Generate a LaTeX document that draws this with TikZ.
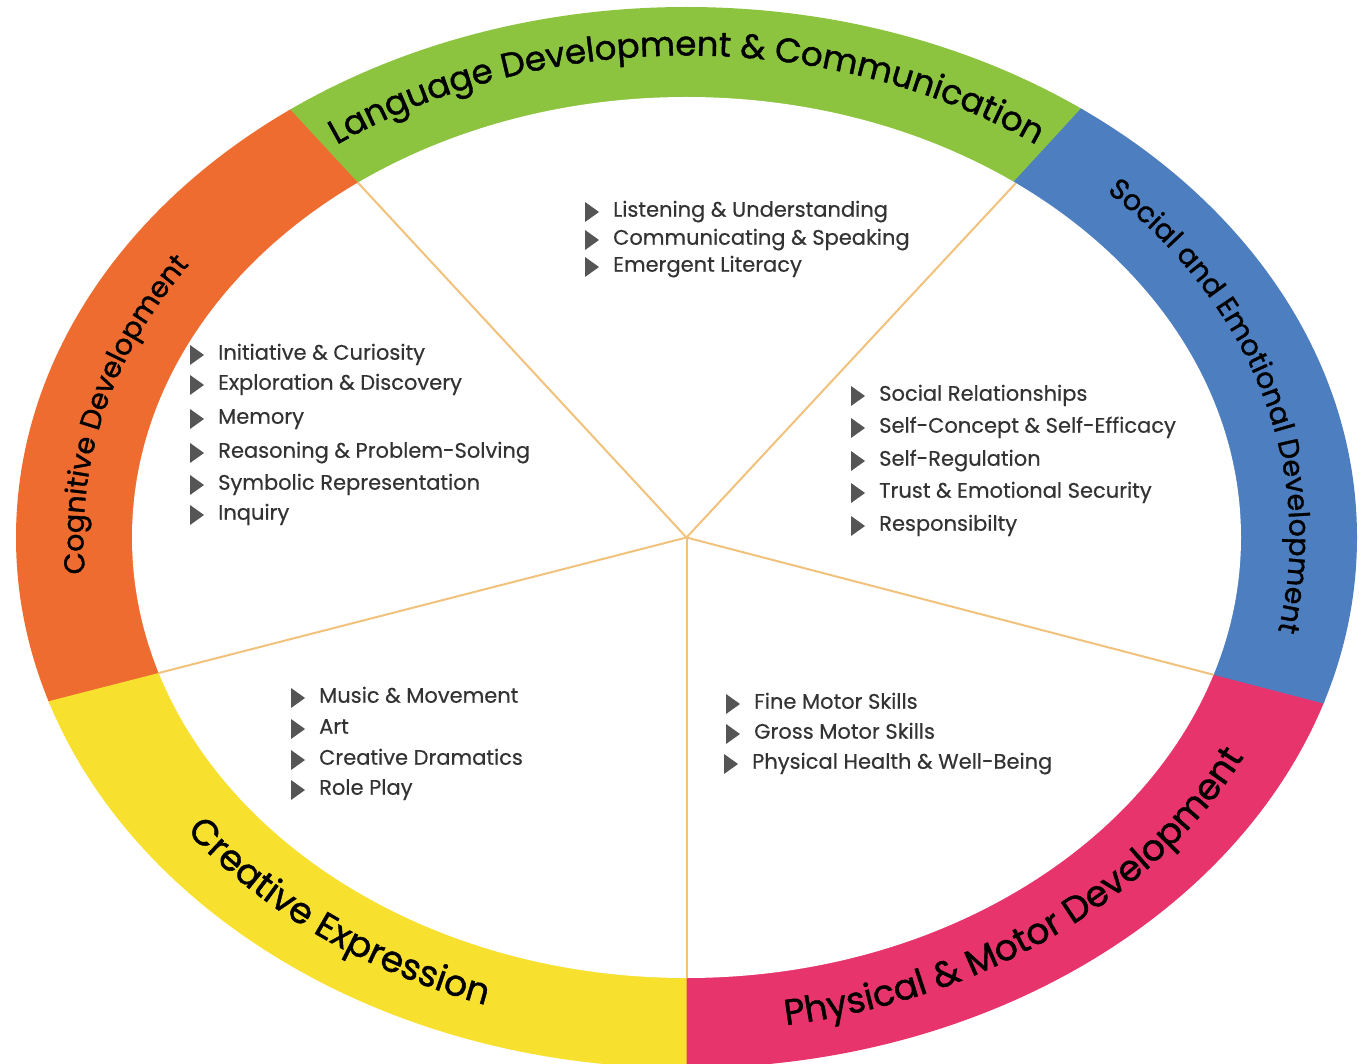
\documentclass[tikz,border=0pt]{standalone}
\usepackage{fontspec}
\setmainfont{Poppins}
\newfontfamily\hdrfont{Poppins}[FakeBold=1.2]
\newfontfamily\itmfont{Poppins}[FakeBold=0.4]
\usetikzlibrary{decorations.text}
\definecolor{cgreen}{HTML}{8CC43F}
\definecolor{corange}{HTML}{EE6C2F}
\definecolor{cblue}{HTML}{4D7EC0}
\definecolor{cpink}{HTML}{E8346D}
\definecolor{cyellow}{HTML}{F8E02F}
\definecolor{cline}{HTML}{F2C27C}
\definecolor{ctext}{HTML}{333333}
\definecolor{cbul}{HTML}{555555}
\newcommand\hdrbig{\hdrfont\fontsize{36}{40}\selectfont}
\newcommand\hdrlang{\hdrfont\fontsize{34}{38}\selectfont}
\newcommand\hdrsmall{\hdrfont\fontsize{28.5}{32}\selectfont}
\tikzset{
  itm/.style={anchor=mid west, inner sep=0pt, text=ctext, font=\itmfont\fontsize{21}{23}\selectfont},
  bul/.style={fill=cbul},
  divider/.style={draw=cline, line width=2pt}
}
\newcommand\bitem[4]{%
  \fill[bul] ({#2-28},{-#3+10}) -- ({#2-14},{-#3}) -- ({#2-28},{-#3-10}) -- cycle;
  \node[itm] (#1) at (#2,{-#3-2}) {#4};}
\begin{document}
\begin{tikzpicture}[x=1pt,y=1pt]
\useasboundingbox (0,0) rectangle (1361,-1064);
\clip (0,0) rectangle (1361,-1064);
\fill[white] (0,0) rectangle (1361,-1064);
\begin{scope}[shift={(686.5,-537.5)}]
  \foreach \a/\b/\col in {47.1/133.1/cgreen, 132.8/194.7/corange, 194.4/270.3/cyellow, 270/345.7/cpink, -14.6/47.4/cblue} {
    \begin{scope}
      \clip (0,0) -- (\a:2000) -- ({(\a+\b)/2}:2000) -- (\b:2000) -- cycle;
      \fill[\col] (0,0) ellipse [x radius=670.5, y radius=530.5];
    \end{scope}
  }
  \fill[white] (0,0) ellipse [x radius=554.5, y radius=440.5];
  \begin{scope}
    \clip (0,0) ellipse [x radius=554.5, y radius=440.5];
    \foreach \a in {47.1,132.8,194.4,270,345.4} \draw[divider] (0,0) -- (\a:700);
  \end{scope}
  % ring titles
  \path[decorate, decoration={text along path, text align=center,
      text={|\hdrlang|Language Development {\&} Communication}}]
    ({603*cos(140)},{482*sin(140)}) arc[start angle=140, end angle=40, x radius=603, y radius=482];
  \path[decorate, decoration={text along path, text align=center,
      text={|\hdrsmall|Social and Emotional Development}}]
    ({603*cos(58.5)},{482*sin(58.5)}) arc[start angle=58.5, end angle=-25.5, x radius=603, y radius=482];
  \path[decorate, decoration={text along path, text align=center,
      text={|\hdrsmall|Cognitive Development}}]
    ({603*cos(201)},{482*sin(201)}) arc[start angle=201, end angle=130.4, x radius=603, y radius=482];
  \path[decorate, decoration={text along path, text align=center,
      text={|\hdrbig|Creative Expression}}]
    ({622*cos(204.5)},{494*sin(204.5)}) arc[start angle=204.5, end angle=261.5, x radius=622, y radius=494];
  \path[decorate, decoration={text along path, text align=center,
      text={|\hdrbig|Physical {\&} Motor Development}}]
    ({622*cos(269)},{494*sin(269)}) arc[start angle=269, end angle=346, x radius=622, y radius=494];
\end{scope}
% Language
\bitem{l1}{613}{212}{Listening \& Understanding}
\bitem{l2}{613}{240}{Communicating \& Speaking}
\bitem{l3}{613}{267}{Emergent Literacy}
% Cognitive
\bitem{c1}{218}{355}{Initiative \& Curiosity}
\bitem{c2}{218}{385}{Exploration \& Discovery}
\bitem{c3}{218}{419}{Memory}
\bitem{c4}{218}{453}{Reasoning \& Problem-Solving}
\bitem{c5}{218}{485}{Symbolic Representation}
\bitem{c6}{218}{515}{Inquiry}
% Social
\bitem{s1}{879}{396}{Social Relationships}
\bitem{s2}{879}{428}{Self-Concept \& Self-Efficacy}
\bitem{s3}{879}{461}{Self-Regulation}
\bitem{s4}{879}{493}{Trust \& Emotional Security}
\bitem{s5}{879}{526}{Responsibilty}
% Creative
\bitem{e1}{319}{698}{Music \& Movement}
\bitem{e2}{319}{729}{Art}
\bitem{e3}{319}{760}{Creative Dramatics}
\bitem{e4}{319}{790}{Role Play}
% Physical
\bitem{p1}{754}{704}{Fine Motor Skills}
\bitem{p2}{754}{734}{Gross Motor Skills}
\bitem{p3}{752}{764}{Physical Health \& Well-Being}
\end{tikzpicture}
\end{document}
